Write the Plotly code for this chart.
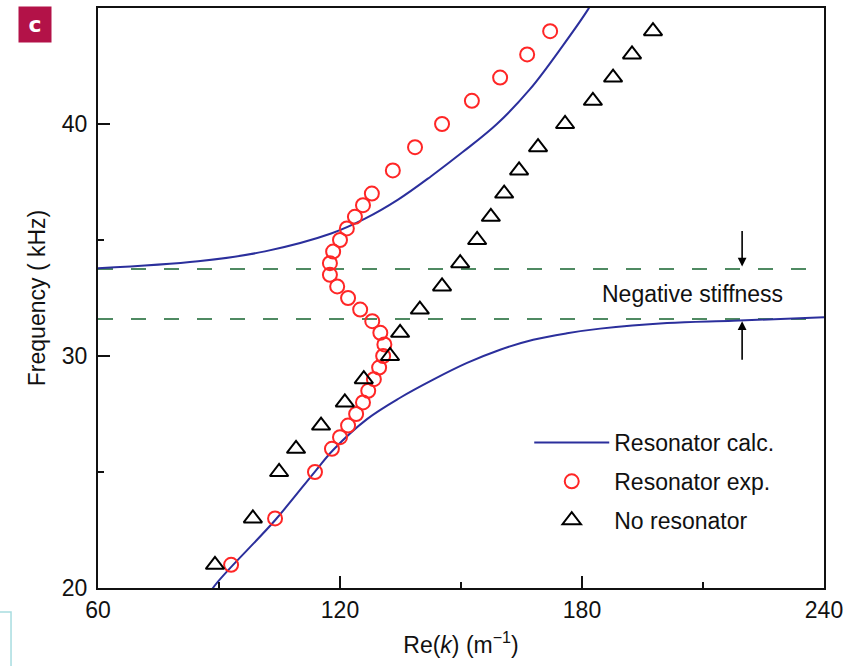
import plotly.graph_objects as go

# ---- data ----
calc_upper_k = [60, 84.8, 101.4, 117.8, 126.2, 134.4, 142.6, 150.5, 158.9, 167.1, 175.3, 181.5, 183.0]
calc_upper_f = [33.78, 34.08, 34.51, 35.28, 35.92, 36.74, 37.75, 38.80, 40.0, 41.5, 43.39, 44.94, 45.4]
calc_lower_k = [87.5, 88.5, 103.9, 113.8, 118.3, 126.7, 134.9, 143.1, 151.5, 159.7, 167.9, 176.3, 184.5, 201.1, 217.5, 240]
calc_lower_f = [19.6, 20.0, 22.92, 25.02, 25.95, 27.28, 28.20, 28.98, 29.70, 30.27, 30.70, 30.98, 31.18, 31.42, 31.52, 31.67]

exp_f = [21, 23, 25, 26, 26.5, 27, 27.5, 28, 28.5, 29, 29.5, 30, 30.5, 31, 31.5, 32, 32.5,
         33, 33.5, 34, 34.5, 35, 35.5, 36, 36.5, 37, 38, 39, 40, 41, 42, 43, 44]
exp_k = [93.0, 103.9, 113.8, 118.0, 120.0, 122.0, 124.0, 125.7, 127.0, 128.4, 129.7, 130.7, 131.0,
         130.0, 128.0, 125.0, 122.0, 119.3, 117.5, 117.5, 118.3, 120.0, 121.7, 123.7, 125.7, 127.9,
         133.1, 138.6, 145.3, 152.7, 159.7, 166.4, 172.1]

nores_f = [21, 23, 25, 26, 27, 28, 29, 30, 31, 32, 33, 34, 35, 36, 37, 38, 39, 40, 41, 42, 43, 44]
nores_k = [89.0, 98.4, 104.9, 109.1, 115.3, 121.2, 125.9, 132.4, 134.9, 139.8, 145.3, 149.8, 154.0,
           157.4, 160.7, 164.4, 169.1, 175.8, 182.7, 187.7, 192.4, 197.6]

band_edges = [33.75, 31.6]
x_ticks = [60, 120, 180, 240]
y_ticks = [20, 30, 40]

FONT = "Liberation Sans, Arial, sans-serif"
FS = 23
BLUE = "#2b2f9c"
RED = "#ff2626"
INK = "#111"

fig = go.Figure()

fig.add_trace(go.Scatter(x=calc_upper_k, y=calc_upper_f, mode="lines", line=dict(color=BLUE, width=2, shape="spline"),
                         name="Resonator calc.", legendgroup="a", showlegend=True))
fig.add_trace(go.Scatter(x=calc_lower_k, y=calc_lower_f, mode="lines", line=dict(color=BLUE, width=2, shape="spline"),
                         name="Resonator calc.", legendgroup="a", showlegend=False))
fig.add_trace(go.Scatter(x=exp_k, y=exp_f, mode="markers", name="Resonator exp.", legendgroup="b",
                         marker=dict(symbol="circle-open", size=14, color=RED, line=dict(width=2, color=RED))))
fig.add_trace(go.Scatter(x=nores_k, y=nores_f, mode="markers", name="No resonator", legendgroup="c",
                         marker=dict(symbol="triangle-up-open", size=16, color="black", line=dict(width=2, color="black"))))

# dashed band edges
for f in band_edges:
    fig.add_shape(type="line", xref="x", yref="y", x0=60, x1=239, y0=f, y1=f,
                  line=dict(color="#4f8a62", width=2, dash="15px,18px"), layer="below")

annotations = [
    dict(x=207.5, y=32.66, xref="x", yref="y", text="Negative stiffness", showarrow=False,
         font=dict(family=FONT, size=FS, color=INK)),
    dict(x=219.7, y=33.86, xref="x", yref="y", text="", showarrow=True, ax=0, ay=-37,
         arrowhead=2, arrowsize=1.1, arrowwidth=1.6, arrowcolor="black"),
    dict(x=219.7, y=31.5, xref="x", yref="y", text="", showarrow=True, ax=0, ay=40,
         arrowhead=2, arrowsize=1.1, arrowwidth=1.6, arrowcolor="black"),
    dict(x=-0.0868, y=0.9724, xref="paper", yref="paper", xanchor="center", yanchor="middle",
         text="<b>c</b>", showarrow=False, bgcolor="#b31248", width=32, height=35, borderpad=0,
         font=dict(family="DejaVu Sans, Arial", size=22, color="white")),
]

fig.add_shape(type="path", xref="paper", yref="paper",
              path="M -0.135,-0.0414 L -0.1198,-0.0414 L -0.1198,-0.1345",
              line=dict(color="#a8dde0", width=1.5))

fig.update_layout(
    width=856, height=666,
    margin=dict(l=98, r=32, t=8, b=78, autoexpand=False),
    paper_bgcolor="white", plot_bgcolor="white",
    font=dict(family=FONT, size=FS, color=INK),
    annotations=annotations,
    legend=dict(x=0.594, y=0.288, xanchor="left", yanchor="top", bgcolor="rgba(0,0,0,0)",
                font=dict(family=FONT, size=FS, color=INK), tracegroupgap=6, itemwidth=75),
    showlegend=True,
)

fig.update_xaxes(range=[60, 240], tickvals=x_ticks, ticks="inside", ticklen=12, tickwidth=2, tickcolor=INK,
                 minor=dict(dtick=30, tick0=60, ticks="inside", ticklen=6, tickwidth=2, tickcolor=INK),
                 showline=True, linewidth=2, linecolor=INK, mirror=True, showgrid=False, zeroline=False,
                 ticklabelstandoff=0, automargin=False,
                 title=dict(text="Re(<i>k</i>) (m<sup>−1</sup>)", font=dict(family=FONT, size=FS), standoff=15))
fig.update_yaxes(range=[20, 45], tickvals=y_ticks, ticks="inside", ticklen=12, tickwidth=2, tickcolor=INK,
                 minor=dict(dtick=5, tick0=20, ticks="inside", ticklen=6, tickwidth=2, tickcolor=INK),
                 showline=True, linewidth=2, linecolor=INK, mirror=True, showgrid=False, zeroline=False,
                 ticklabelstandoff=4, automargin=False,
                 title=dict(text="Frequency ( kHz)", font=dict(family=FONT, size=FS), standoff=10))

fig.write_html("out.html", post_script="document.body.style.margin='0';",
               config={"displayModeBar": False})
